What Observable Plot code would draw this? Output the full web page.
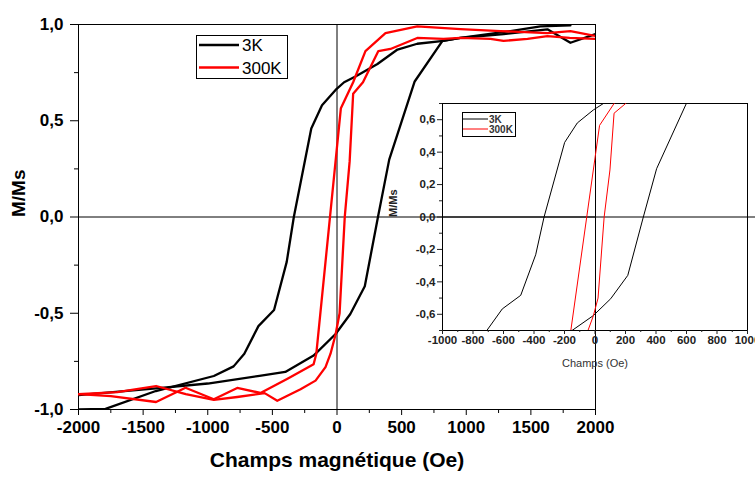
<!DOCTYPE html>
<html><head><meta charset="utf-8">
<script src="https://cdn.jsdelivr.net/npm/d3@7"></script>
<script src="https://cdn.jsdelivr.net/npm/@observablehq/plot@0.6"></script>
<style>
body{margin:0;background:#fff;}
#wrap{position:relative;width:755px;height:479px;overflow:hidden;background:#fff;}
#wrap svg{position:absolute;}
</style></head><body><div id="wrap"></div>
<script>
const seriesNames = ["3K", "300K"];
const seriesColors = ["#000000", "#ff0000"];

// 3K, descending branch (field from +2000 to -2000)
const h3kDown = [2000, 1806, 1628, 1290, 955, 824, 621, 468, 313, 143, 55, -11, -116, -199, -334, -389, -487, -608, -717, -800, -953, -1402, -1791, -2000];
const m3kDown = [0.95, 0.905, 0.975, 0.95, 0.93, 0.915, 0.90, 0.87, 0.795, 0.73, 0.70, 0.66, 0.58, 0.46, 0.0, -0.233, -0.483, -0.567, -0.71, -0.776, -0.826, -0.904, -0.997, -1.0];
// 3K, ascending branch
const h3kUp = [-2000, -1400, -1000, -600, -400, -181, -11, 103, 215, 317, 404, 601, 816, 955, 1342, 1574, 1806];
const m3kUp = [-0.925, -0.89, -0.865, -0.825, -0.805, -0.72, -0.608, -0.504, -0.36, 0.0, 0.298, 0.704, 0.915, 0.93, 0.966, 0.99, 0.995];
// 300K, descending branch
const h300Down = [2000, 1806, 1628, 1264, 955, 621, 375, 220, 125, 30, -160, -181, -383, -592, -772, -953, -1172, -1400, -1750, -2000];
const m300Down = [0.94, 0.966, 0.955, 0.966, 0.976, 0.99, 0.955, 0.862, 0.70, 0.565, -0.71, -0.765, -0.84, -0.914, -0.888, -0.947, -0.887, -0.961, -0.93, -0.92];
// 300K, ascending branch
const h300Up = [-2000, -1700, -1400, -1170, -953, -772, -560, -462, -282, -166, -89, -50, -11, 20, 60, 98, 125, 201, 320, 414, 621, 824, 955, 1188, 1288, 1474, 1628, 1800, 2000];
const m300Up = [-0.92, -0.91, -0.878, -0.92, -0.95, -0.935, -0.915, -0.955, -0.895, -0.85, -0.78, -0.71, -0.61, -0.50, 0.0, 0.29, 0.64, 0.70, 0.862, 0.873, 0.93, 0.925, 0.93, 0.925, 0.915, 0.925, 0.94, 0.93, 0.925];

const xMajor = [-2000, -1500, -1000, -500, 0, 500, 1000, 1500, 2000];
const xMinor = [-1750, -1250, -750, -250, 250, 750, 1250, 1750];
const yMajor = [-1, -0.5, 0, 0.5, 1];
const yMinor = [-0.75, -0.25, 0.25, 0.75];
const insetXMajor = [-1000, -800, -600, -400, -200, 0, 200, 400, 600, 800, 1000];
const insetXMinor = [-900, -700, -500, -300, -100, 100, 300, 500, 700, 900];
const insetYMajor = [-0.6, -0.4, -0.2, 0, 0.2, 0.4, 0.6];
const insetYMinor = [-0.7, -0.5, -0.3, -0.1, 0.1, 0.3, 0.5, 0.7];
const xTitle = "Champs magnétique (Oe)";
const yTitle = "M/Ms";
const insetXTitle = "Champs (Oe)";

const data = [];
function addBranch(series, branch, H, M) {
  H.forEach((h, i) => data.push({series, key: series + "-" + branch, H: h, M: M[i]}));
}
addBranch("3K", "down", h3kDown, m3kDown);
addBranch("3K", "up", h3kUp, m3kUp);
addBranch("300K", "down", h300Down, m300Down);
addBranch("300K", "up", h300Up, m300Up);

const fmt1 = d => d3.format(".1f")(d).replace(".", ",").replace("\u2212", "-");
const FONT = "'Liberation Sans', Arial, sans-serif";

const main = Plot.plot({
  width: 755, height: 479,
  marginLeft: 78, marginRight: 160, marginTop: 24, marginBottom: 70,
  style: {fontFamily: FONT, background: "transparent", color: "#000", overflow: "visible"},
  x: {domain: [-2000, 2000], label: null},
  y: {domain: [-1, 1], label: null},
  color: {domain: seriesNames, range: seriesColors},
  marks: [
    Plot.frame({stroke: "#000", strokeWidth: 1}),
    Plot.ruleX([0], {stroke: "#000", strokeWidth: 1}),
    Plot.ruleY([0], {stroke: "#000", strokeWidth: 1}),
    Plot.axisX(xMajor, {tickSize: 6, tickPadding: 5, tickFormat: d => String(d), fontSize: 17, fontWeight: "bold", label: null}),
    Plot.axisX(xMinor, {tickSize: 4, tickFormat: () => "", label: null}),
    Plot.axisY(yMajor, {tickSize: 8, tickPadding: 7, tickFormat: fmt1, fontSize: 17, fontWeight: "bold", label: null}),
    Plot.axisY(yMinor, {tickSize: 4, tickFormat: () => "", label: null}),
    Plot.line(data, {x: "H", y: "M", z: "key", stroke: "series", strokeWidth: 2.3, clip: true}),
    Plot.text([xTitle], {text: d => d, frameAnchor: "bottom", dy: 57, fontSize: 21, fontWeight: "bold", letterSpacing: "0.3px"}),
    Plot.text([yTitle], {text: d => d, frameAnchor: "left", dx: -60, rotate: -90, fontSize: 19, fontWeight: "bold"})
  ]
});
main.style.left = "0px"; main.style.top = "0px";
document.getElementById("wrap").appendChild(main);

// main legend
{
  const g = d3.select(main).append("g").style("font-family", FONT).attr("text-anchor", "start");
  g.append("rect").attr("x", 196.5).attr("y", 35.5).attr("width", 91).attr("height", 43)
    .attr("fill", "#fff").attr("stroke", "#000").attr("stroke-width", 1);
  seriesNames.forEach((s, i) => {
    const y = 45 + i * 22.5;
    g.append("line").attr("x1", 199).attr("x2", 239).attr("y1", y).attr("y2", y)
      .attr("stroke", seriesColors[i]).attr("stroke-width", 2.3);
    g.append("text").attr("x", 242).attr("y", y).attr("dy", "0.36em").attr("text-anchor", "start")
      .attr("font-size", 17).attr("fill", "#000").text(s);
  });
}

const inset = Plot.plot({
  width: 375, height: 290,
  marginLeft: 62, marginRight: 8, marginTop: 13, marginBottom: 50,
  style: {fontFamily: FONT, background: "transparent", color: "#222", overflow: "visible"},
  x: {domain: [-1000, 1000], label: null},
  y: {domain: [-0.7, 0.7], label: null},
  color: {domain: seriesNames, range: seriesColors},
  marks: [
    Plot.frame({stroke: "#000", strokeWidth: 1}),
    Plot.ruleY([0], {stroke: "#000", strokeWidth: 1, insetRight: -8}),
    Plot.axisX(insetXMajor, {tickSize: 4, tickPadding: 1, tickFormat: d => String(d), fontSize: 11.5, fontWeight: "bold", label: null}),
    Plot.axisX(insetXMinor, {tickSize: 2, tickFormat: () => "", label: null}),
    Plot.axisY(insetYMajor, {tickSize: 5, tickPadding: 2, tickFormat: fmt1, fontSize: 11.5, fontWeight: "bold", label: null}),
    Plot.axisY(insetYMinor, {tickSize: 3, tickFormat: () => "", label: null}),
    Plot.line(data, {x: "H", y: "M", z: "key", stroke: "series", strokeWidth: 1, clip: true}),
    Plot.text([insetXTitle], {text: d => d, frameAnchor: "bottom", dy: 36, fontSize: 11, letterSpacing: "1px", fill: "#333"}),
    Plot.text([yTitle], {text: d => d, frameAnchor: "left", dx: -49, rotate: -90, fontSize: 11, fontWeight: "bold", fill: "#222"})
  ]
});
inset.style.left = "380px"; inset.style.top = "90px";
document.getElementById("wrap").appendChild(inset);

// inset legend
{
  const g = d3.select(inset).append("g").style("font-family", FONT).attr("text-anchor", "start");
  g.append("rect").attr("x", 82.5).attr("y", 22.5).attr("width", 53).attr("height", 24)
    .attr("fill", "#fff").attr("stroke", "#000").attr("stroke-width", 1);
  seriesNames.forEach((s, i) => {
    const y = 29 + i * 10;
    g.append("line").attr("x1", 83).attr("x2", 108).attr("y1", y).attr("y2", y)
      .attr("stroke", seriesColors[i]).attr("stroke-width", 1);
    g.append("text").attr("x", 109).attr("y", y).attr("dy", "0.36em").attr("text-anchor", "start")
      .attr("font-size", 10).attr("font-weight", "bold").attr("fill", "#333").text(s);
  });
}
</script></body></html>
